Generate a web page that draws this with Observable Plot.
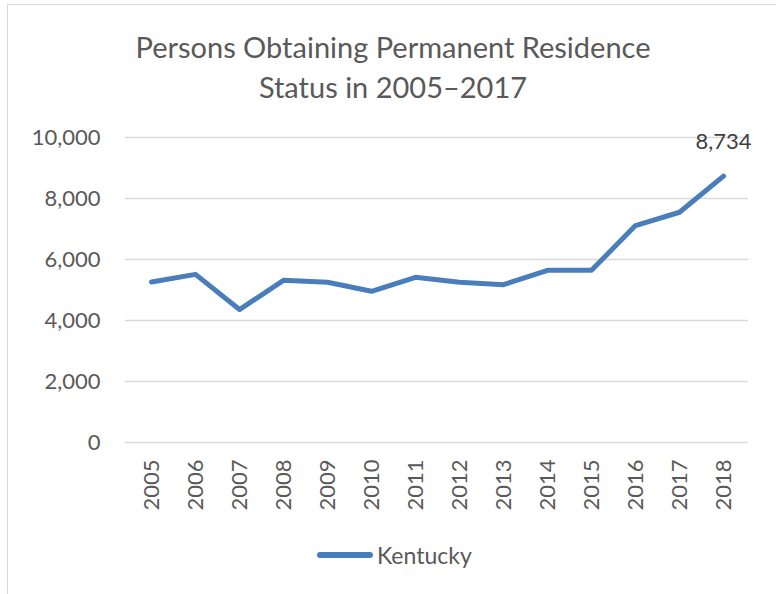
<!DOCTYPE html>
<html>
<head>
<meta charset="utf-8">
<script src="https://cdn.jsdelivr.net/npm/d3@7"></script>
<script src="https://cdn.jsdelivr.net/npm/@observablehq/plot@0.6"></script>
<style>
  html, body { margin: 0; padding: 0; background: #fff; }
  body { width: 776px; height: 594px; position: relative; overflow: hidden; font-family: Lato, "Open Sans", sans-serif; }
  #frame { position: absolute; left: 7px; top: 4px; width: 800px; height: 620px; border: 1px solid #d9d9d9; box-sizing: border-box; }
  #title { position: absolute; left: 0; top: 27px; width: 786px; text-align: center; font-size: 29px; line-height: 40px; color: #595959; }
  #chart { position: absolute; left: 0; top: 110px; }
  #legend { position: absolute; left: 317px; top: 540px; height: 30px; display: flex; align-items: center; font-size: 23px; color: #595959; }
  #legend .sw { width: 56px; height: 6px; background: #4a7ebb; border-radius: 3px; margin-right: 4px; }
</style>
</head>
<body>
<div id="frame"></div>
<div id="title">Persons Obtaining Permanent Residence<br>Status in 2005–2017</div>
<div id="chart"></div>
<div id="legend"><div class="sw"></div><span>Kentucky</span></div>
<script>
const years = ["2005","2006","2007","2008","2009","2010","2011","2012","2013","2014","2015","2016","2017","2018"];
const kentucky = [5261, 5513, 4359, 5317, 5252, 4958, 5415, 5252, 5176, 5644, 5644, 7114, 7549, 8734];
const yTicks = [0, 2000, 4000, 6000, 8000, 10000];
const seriesName = "Kentucky";

const data = years.map((y, i) => ({year: y, value: kentucky[i], series: seriesName}));
const last = data[data.length - 1];

const chart = Plot.plot({
  width: 776,
  height: 420,
  marginTop: 27,
  marginBottom: 88,
  marginLeft: 125,
  marginRight: 28,
  style: {fontFamily: "Lato, 'Open Sans', sans-serif", fontSize: "22px", color: "#595959", background: "transparent", overflow: "visible"},
  x: {type: "band", domain: years, padding: 0, label: null},
  y: {domain: [0, 10000], label: null},
  marks: [
    Plot.gridY(yTicks, {stroke: "#d9d9d9", strokeOpacity: 1, strokeWidth: 1.5}),
    Plot.axisY(yTicks, {tickFormat: d3.format(","), tickSize: 0, tickPadding: 25, fontSize: 22, fill: "#595959", label: null}),
    Plot.axisX({tickRotate: -90, tickSize: 0, tickPadding: 17, fontSize: 22, fill: "#595959", label: null}),
    Plot.lineY(data, {x: "year", y: "value", stroke: "#4a7ebb", strokeWidth: 5, strokeLinecap: "round", strokeLinejoin: "round"}),
    Plot.text([last], {x: "year", y: "value", text: d => d3.format(",")(d.value), dy: -34, fontSize: 22, fill: "#404040"})
  ]
});
document.getElementById("chart").appendChild(chart);
</script>
</body>
</html>
